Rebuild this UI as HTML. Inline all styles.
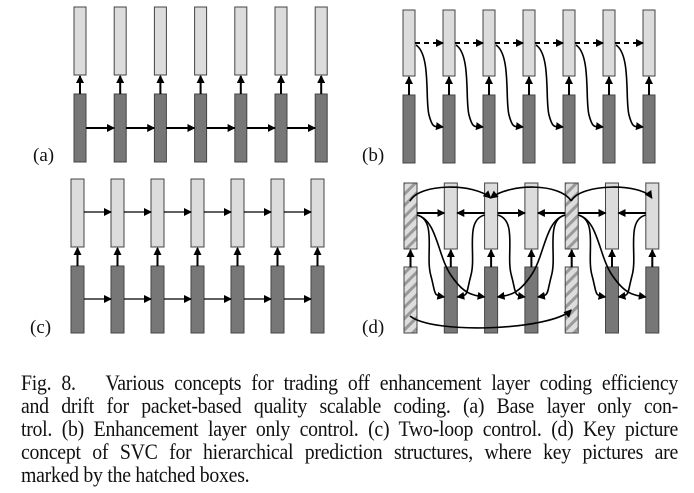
<!DOCTYPE html>
<html><head><style>
body{margin:0;background:#fff;width:694px;height:493px;overflow:hidden;position:relative;font-family:"Liberation Serif",serif}
.l{position:absolute;left:21px;width:730px;font-size:22px;line-height:23px;text-align:justify;text-align-last:justify;white-space:nowrap;color:#111;letter-spacing:-0.3px;transform:scaleX(0.9);transform-origin:0 0}
.lab{position:absolute;font-size:19px;color:#111}
</style></head><body>
<svg width="694" height="360" style="position:absolute;left:0;top:0">
<defs>
<marker id="a" markerWidth="8" markerHeight="8" refX="7" refY="4" orient="auto" markerUnits="userSpaceOnUse"><path d="M0,0L8,4L0,8z" fill="#000"/></marker>
<pattern id="h" width="8" height="8" patternUnits="userSpaceOnUse" patternTransform="rotate(45)"><rect width="8" height="8" fill="#ddd"/><rect width="3" height="8" fill="#999"/></pattern>
<g id="ca"><rect x="0" y="7" width="12" height="68" fill="#dcdcdc" stroke="#444"/><rect x="0" y="94" width="12" height="68" fill="#777" stroke="#444"/><line x1="6" y1="94" x2="6" y2="76" stroke="#000" stroke-width="2" marker-end="url(#a)"/></g>
<line id="ha" x1="12" y1="128" x2="40" y2="128" stroke="#000" stroke-width="2" marker-end="url(#a)"/>
<g id="cb"><rect x="0" y="10" width="12" height="66" fill="#dcdcdc" stroke="#444"/><rect x="0" y="95" width="12" height="68" fill="#777" stroke="#444"/><line x1="6" y1="95" x2="6" y2="77" stroke="#000" stroke-width="2" marker-end="url(#a)"/></g>
<g id="hb"><line x1="12" y1="43" x2="40" y2="43" stroke="#000" stroke-width="2" stroke-dasharray="5,4" marker-end="url(#a)"/><path d="M13,45 C28,55 22,100 26,115 S32,126 40,127" fill="none" stroke="#000" stroke-width="1.6" marker-end="url(#a)"/></g>
<g id="cc"><rect x="0" y="179" width="13" height="68" fill="#dcdcdc" stroke="#444"/><rect x="0" y="266" width="13" height="67" fill="#777" stroke="#444"/><line x1="6.5" y1="266" x2="6.5" y2="248" stroke="#000" stroke-width="2" marker-end="url(#a)"/></g>
<g id="hc"><line x1="13" y1="212" x2="40" y2="212" stroke="#000" stroke-width="1.2" marker-end="url(#a)"/><line x1="13" y1="299" x2="40" y2="299" stroke="#000" stroke-width="1.2" marker-end="url(#a)"/></g>
<g id="cd"><rect x="0" y="183" width="13" height="66" fill="#dcdcdc" stroke="#444"/><rect x="0" y="267" width="13" height="66" fill="#777" stroke="#444"/><line x1="6.5" y1="267" x2="6.5" y2="250" stroke="#000" stroke-width="2" marker-end="url(#a)"/></g>
<g id="kd"><rect x="0" y="183" width="13" height="66" fill="url(#h)" stroke="#444"/><rect x="0" y="267" width="13" height="66" fill="url(#h)" stroke="#444"/><line x1="6.5" y1="267" x2="6.5" y2="250" stroke="#000" stroke-width="2" marker-end="url(#a)"/></g>
</defs>
<use href="#ca" x="74"/><use href="#ca" x="114.2"/><use href="#ca" x="154.4"/><use href="#ca" x="194.6"/><use href="#ca" x="234.8"/><use href="#ca" x="275"/><use href="#ca" x="315.2"/>
<use href="#ha" x="74"/><use href="#ha" x="114.2"/><use href="#ha" x="154.4"/><use href="#ha" x="194.6"/><use href="#ha" x="234.8"/><use href="#ha" x="275"/>
<use href="#cb" x="403"/><use href="#cb" x="443"/><use href="#cb" x="483"/><use href="#cb" x="523"/><use href="#cb" x="563"/><use href="#cb" x="603"/><use href="#cb" x="643"/>
<use href="#hb" x="403"/><use href="#hb" x="443"/><use href="#hb" x="483"/><use href="#hb" x="523"/><use href="#hb" x="563"/><use href="#hb" x="603"/>
<use href="#cc" x="71"/><use href="#cc" x="111"/><use href="#cc" x="151"/><use href="#cc" x="191"/><use href="#cc" x="231"/><use href="#cc" x="271"/><use href="#cc" x="311"/>
<use href="#hc" x="71"/><use href="#hc" x="111"/><use href="#hc" x="151"/><use href="#hc" x="191"/><use href="#hc" x="231"/><use href="#hc" x="271"/>
<use href="#kd" x="404"/><use href="#cd" x="444.3"/><use href="#cd" x="484.6"/><use href="#cd" x="524.9"/><use href="#kd" x="565.2"/><use href="#cd" x="605.5"/><use href="#cd" x="645.8"/>
<g stroke="#000" stroke-width="2" marker-end="url(#a)">
<line x1="417" y1="213" x2="444.3" y2="213"/><line x1="484.6" y1="213" x2="457.3" y2="213"/><line x1="497.6" y1="213" x2="524.9" y2="213"/><line x1="565.2" y1="213" x2="537.9" y2="213"/><line x1="578.2" y1="213" x2="605.5" y2="213"/><line x1="645.8" y1="213" x2="618.5" y2="213"/>
</g>
<g fill="none" stroke="#000" stroke-width="1.6" marker-end="url(#a)">
<path d="M410,201 C419,183 474.6,183 490.6,198"/>
<path d="M571.2,201 C560.2,183 510.6,183 490.6,198"/>
<path d="M571.2,201 C580.2,183 641.8,183 651.8,198"/>
<path d="M410,316 C434,335 551.2,330 571.2,310"/>
<path d="M417,215 C437,220 425.2,255 430.7,275 S432.3,295 444.3,297"/>
<path d="M417,215 C437,220 437.3,255 450.8,275 S472.6,295 484.6,297"/>
<path d="M484.6,215 C464.6,220 476.4,255 471,275 S469.3,295 457.3,297"/>
<path d="M497.6,215 C517.6,220 505.8,255 511.3,275 S512.9,295 524.9,297"/>
<path d="M565.2,215 C545.2,220 557,255 551.6,275 S549.9,295 537.9,297"/>
<path d="M565.2,215 C545.2,220 544.9,255 531.4,275 S509.6,295 497.6,297"/>
<path d="M578.2,215 C598.2,220 586.4,255 591.9,275 S593.5,295 605.5,297"/>
<path d="M578.2,215 C598.2,220 598.5,255 612,275 S633.8,295 645.8,297"/>
<path d="M645.8,215 C625.8,220 637.6,255 632.2,275 S630.5,295 618.5,297"/>
</g>
</svg>
<div class="lab" style="left:33px;top:145px">(a)</div>
<div class="lab" style="left:362px;top:145px">(b)</div>
<div class="lab" style="left:30px;top:317px">(c)</div>
<div class="lab" style="left:362px;top:317px">(d)</div>
<div class="l" style="top:371px">Fig. 8.&nbsp;&nbsp; Various concepts for trading off enhancement layer coding efficiency</div>
<div class="l" style="top:394px">and drift for packet-based quality scalable coding. (a) Base layer only con-</div>
<div class="l" style="top:417px">trol. (b) Enhancement layer only control. (c) Two-loop control. (d) Key picture</div>
<div class="l" style="top:440px">concept of SVC for hierarchical prediction structures, where key pictures are</div>
<div class="l" style="top:463px;text-align-last:left">marked by the hatched boxes.</div>
</body></html>
